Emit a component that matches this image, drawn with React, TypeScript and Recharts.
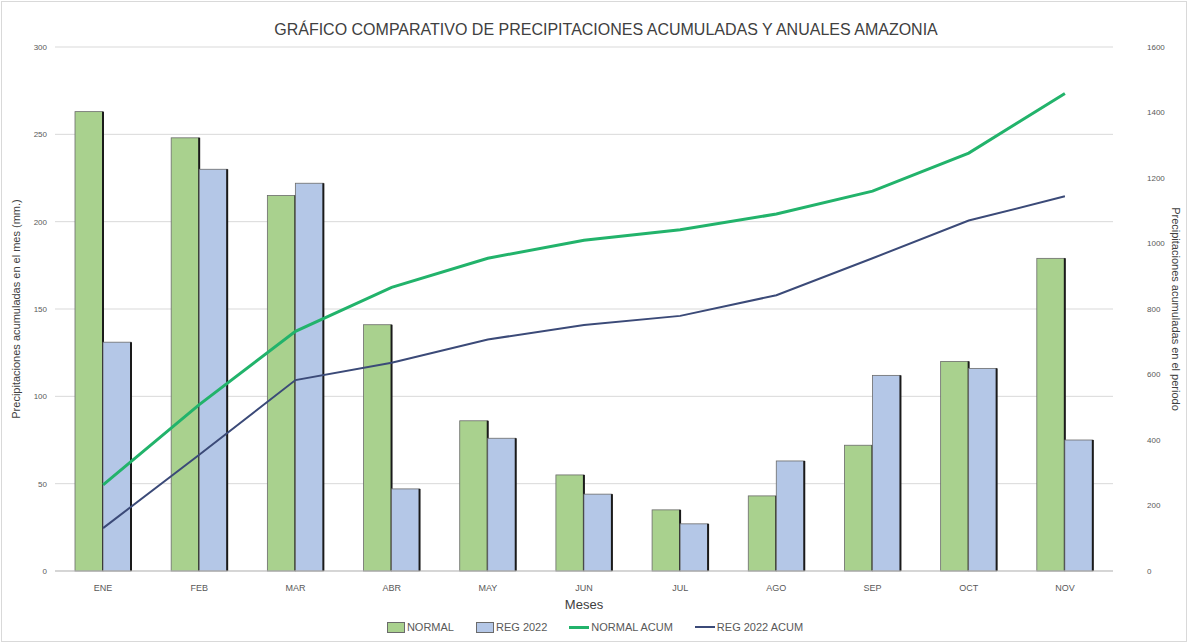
import {
  ComposedChart,
  Bar,
  Line,
  XAxis,
  YAxis,
  CartesianGrid,
} from "recharts";

const meses = ["ENE", "FEB", "MAR", "ABR", "MAY", "JUN", "JUL", "AGO", "SEP", "OCT", "NOV"];
const normal = [263, 248, 215, 141, 86, 55, 35, 43, 72, 120, 179];
const reg2022 = [131, 230, 222, 47, 76, 44, 27, 63, 112, 116, 75];
const normalAcum = [263, 508, 732, 866, 955, 1010, 1042, 1090, 1160, 1276, 1458];
const regAcum = [131, 355, 583, 636, 707, 751, 779, 842, 955, 1070, 1144];
const ticksLeft = [0, 50, 100, 150, 200, 250, 300];
const ticksRight = [0, 200, 400, 600, 800, 1000, 1200, 1400, 1600];

const data = meses.map((m, i) => ({
  mes: m,
  normal: normal[i],
  reg: reg2022[i],
  normalAcum: normalAcum[i],
  regAcum: regAcum[i],
}));

const FONT = "'Liberation Sans Narrow', 'Liberation Sans', Arial, sans-serif";

// barra con el borde derecho oscuro, como en el original de Excel
function BarShape(props: any) {
  const { x, y, width, height, fill } = props;
  if (!height || height <= 0) return null;
  return (
    <g>
      <rect x={x} y={y} width={width} height={height} fill={fill} stroke="#6b6b6b" strokeWidth={0.8} />
      <line x1={x + width} y1={y} x2={x + width} y2={y + height} stroke="#1a1a1a" strokeWidth={2} />
    </g>
  );
}

function LegendBox() {
  const item = { display: "flex", alignItems: "center", marginRight: 22 } as const;
  return (
    <div
      style={{
        position: "absolute",
        top: 621,
        left: 0,
        width: 1188,
        display: "flex",
        justifyContent: "center",
        fontFamily: FONT,
        fontSize: 11,
        color: "#595959",
        paddingLeft: 12,
      }}
    >
      <div style={item}>
        <span style={{ width: 16, height: 9, background: "#a9d18e", border: "1px solid #6b6b6b", marginRight: 2 }} />
        NORMAL
      </div>
      <div style={item}>
        <span style={{ width: 16, height: 9, background: "#b4c7e7", border: "1px solid #6b6b6b", marginRight: 2 }} />
        REG 2022
      </div>
      <div style={item}>
        <span style={{ width: 20, height: 3, background: "#22b36b", marginRight: 2 }} />
        NORMAL ACUM
      </div>
      <div style={item}>
        <span style={{ width: 20, height: 2, background: "#3b4a78", marginRight: 2 }} />
        REG 2022 ACUM
      </div>
    </div>
  );
}

export default function App() {
  return (
    <div style={{ position: "relative", width: 1188, height: 643, background: "#fff" }}>
      <style>{`body{margin:0}`}</style>
      <div
        style={{
          position: "absolute",
          inset: 1,
          border: "1px solid #d9d9d9",
          pointerEvents: "none",
        }}
      />
      <div
        style={{
          position: "absolute",
          top: 21,
          left: 0,
          width: 1188,
          textAlign: "center",
          fontFamily: FONT,
          fontSize: 16,
          color: "#404040",
          paddingLeft: 12,
        }}
      >
        GRÁFICO COMPARATIVO DE PRECIPITACIONES ACUMULADAS Y ANUALES AMAZONIA
      </div>
      <ComposedChart
        width={1188}
        height={643}
        data={data}
        margin={{ top: 47, right: 0, left: 0, bottom: 42 }}
        barGap={0}
        barSize={28}
      >
        <CartesianGrid vertical={false} stroke="#d9d9d9" yAxisId="left" />
        <XAxis
          dataKey="mes"
          height={30}
          tickLine={false}
          axisLine={{ stroke: "#bfbfbf" }}
          tick={{ fontSize: 9, fill: "#595959", fontFamily: FONT }}
          tickMargin={8}
          label={{ value: "Meses", position: "insideBottom", offset: -8, fontSize: 13, fill: "#404040", fontFamily: FONT }}
        />
        <YAxis
          yAxisId="left"
          width={55}
          domain={[0, 300]}
          ticks={ticksLeft}
          axisLine={false}
          tickLine={false}
          tick={{ fontSize: 8, fill: "#595959", fontFamily: FONT }}
          label={{
            value: "Precipitaciones acumuladas en el mes (mm.)",
            angle: -90,
            position: "insideLeft",
            offset: 16,
            style: { textAnchor: "middle", fontSize: 11, fill: "#404040", fontFamily: FONT },
          }}
        />
        <YAxis
          yAxisId="right"
          orientation="right"
          width={75}
          domain={[0, 1600]}
          ticks={ticksRight}
          axisLine={false}
          tickLine={false}
          tick={{ fontSize: 8, fill: "#595959", fontFamily: FONT }}
          tickMargin={28}
          label={{
            value: "Precipitaciones acumuladas en el periodo",
            angle: 90,
            position: "insideRight",
            offset: 12,
            style: { textAnchor: "middle", fontSize: 11, fill: "#404040", fontFamily: FONT },
          }}
        />
        <Bar yAxisId="left" dataKey="normal" fill="#a9d18e" shape={BarShape} isAnimationActive={false} />
        <Bar yAxisId="left" dataKey="reg" fill="#b4c7e7" shape={BarShape} isAnimationActive={false} />
        <Line
          yAxisId="right"
          type="linear"
          dataKey="normalAcum"
          stroke="#22b36b"
          strokeWidth={3}
          dot={false}
          isAnimationActive={false}
        />
        <Line
          yAxisId="right"
          type="linear"
          dataKey="regAcum"
          stroke="#3b4a78"
          strokeWidth={2}
          dot={false}
          isAnimationActive={false}
        />
      </ComposedChart>
      <LegendBox />
    </div>
  );
}
